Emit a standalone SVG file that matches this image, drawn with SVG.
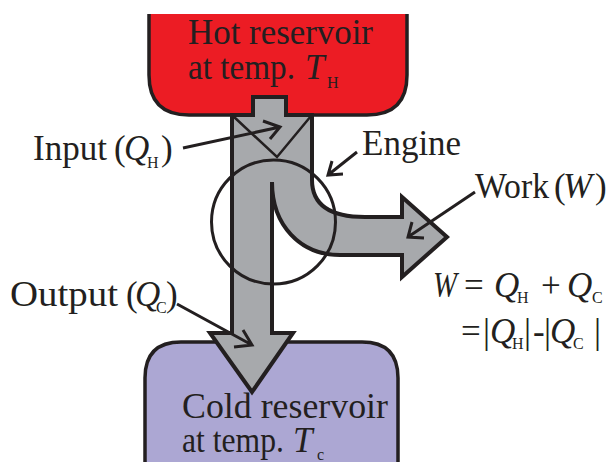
<svg xmlns="http://www.w3.org/2000/svg" width="612" height="462" viewBox="0 0 612 462">
<defs>
<style>
.t{font-family:"Liberation Serif","Times New Roman",serif;font-size:35px;fill:#231f20}
.i{font-style:italic}
.s{font-size:16px}
.ptr{fill:none;stroke:#231f20;stroke-width:3;stroke-linecap:butt;stroke-linejoin:miter}
.edge{stroke:#231f20;stroke-width:3.5}
</style>
</defs>
<rect width="612" height="462" fill="#ffffff"/>
<g id="hot-reservoir">
<path d="M149,14 V75 Q149,115 189,115 H367 Q407,115 407,75 V14 Z" fill="#ec1c24"/>
<path class="edge" d="M149,14 V75 Q149,115 189,115 H367 Q407,115 407,75 V14" fill="none"/>
<text class="t" x="188" y="44" textLength="185" lengthAdjust="spacingAndGlyphs">Hot reservoir</text>
<text class="t" x="188" y="79"><tspan textLength="107" lengthAdjust="spacingAndGlyphs">at temp.</tspan><tspan class="i" x="305">T</tspan><tspan class="s" x="327" y="88">H</tspan></text>
</g>
<g id="cold-reservoir">
<path d="M145,462 V378 Q145,342 181,342 H362 Q398,342 398,378 V462 Z" fill="#aca7d3"/>
<path class="edge" d="M145,462 V378 Q145,342 181,342 H362 Q398,342 398,378 V462" fill="none"/>
<text class="t" x="182" y="418" textLength="206" lengthAdjust="spacingAndGlyphs">Cold reservoir</text>
<text class="t" x="182" y="452"><tspan textLength="102" lengthAdjust="spacingAndGlyphs">at temp.</tspan><tspan class="i" x="293">T</tspan><tspan class="s" x="317" y="460">c</tspan></text>
</g>
<g id="heat-flow">
<path d="M253,97 H286 V115 H312 V180 C312,205 330,217 365,217 H402 V197 L447,237 L402,277 V255 H340 C300,255 272,225 272,182 V333 H293 L252,392 L210,333 H232 V115 H253 Z" fill="#a7a9ac" stroke="#231f20" stroke-width="4" stroke-linejoin="miter" stroke-miterlimit="4"/>
<path d="M233,116 L277,157 L311,116" fill="none" stroke="#231f20" stroke-width="2.5"/>
</g>
<g id="engine">
<circle cx="273.5" cy="222" r="62" fill="none" stroke="#231f20" stroke-width="3"/>
</g>
<g id="labels">
<text class="t" x="33" y="160"><tspan textLength="74" lengthAdjust="spacingAndGlyphs">Input</tspan><tspan x="114">(</tspan><tspan class="i" x="124">Q</tspan><tspan class="s" x="147" y="168">H</tspan><tspan x="161" y="160">)</tspan></text>
<text class="t" x="362" y="155">Engine</text>
<text class="t" x="475" y="198"><tspan textLength="74" lengthAdjust="spacingAndGlyphs">Work</tspan><tspan x="554">(</tspan><tspan class="i" x="563">W</tspan><tspan x="595">)</tspan></text>
<text class="t" x="10" y="306"><tspan textLength="108" lengthAdjust="spacingAndGlyphs">Output</tspan><tspan x="126">(</tspan><tspan class="i" x="135">Q</tspan><tspan class="s" x="156" y="313">C</tspan><tspan x="166" y="306">)</tspan></text>
<text class="t" x="433" y="297"><tspan class="i" textLength="24" lengthAdjust="spacingAndGlyphs">W</tspan><tspan x="464">=</tspan><tspan class="i" x="494">Q</tspan><tspan class="s" x="517" y="303">H</tspan><tspan x="541" y="297">+</tspan><tspan class="i" x="567">Q</tspan><tspan class="s" x="592" y="303">C</tspan></text>
<text class="t" x="461" y="343">=<tspan x="483">|</tspan><tspan class="i" x="490">Q</tspan><tspan class="s" x="512" y="349">H</tspan><tspan x="524" y="343">|</tspan><tspan x="533">-</tspan><tspan x="544">|</tspan><tspan class="i" x="550">Q</tspan><tspan class="s" x="573" y="349">C</tspan><tspan x="594" y="343">|</tspan></text>
</g>
<g id="connectors">
<path class="ptr" d="M183,148 L280,127 M263,121 L280,127 L270,139"/>
<path class="ptr" d="M357,152 L328,175 M332,161 L328,175 L343,174"/>
<path class="ptr" d="M475,192 L408,237 M412,222 L408,237 L424,238"/>
<path class="ptr" d="M177,304 L252,345 M243,330 L252,345 L234,347"/>
</g>
</svg>
